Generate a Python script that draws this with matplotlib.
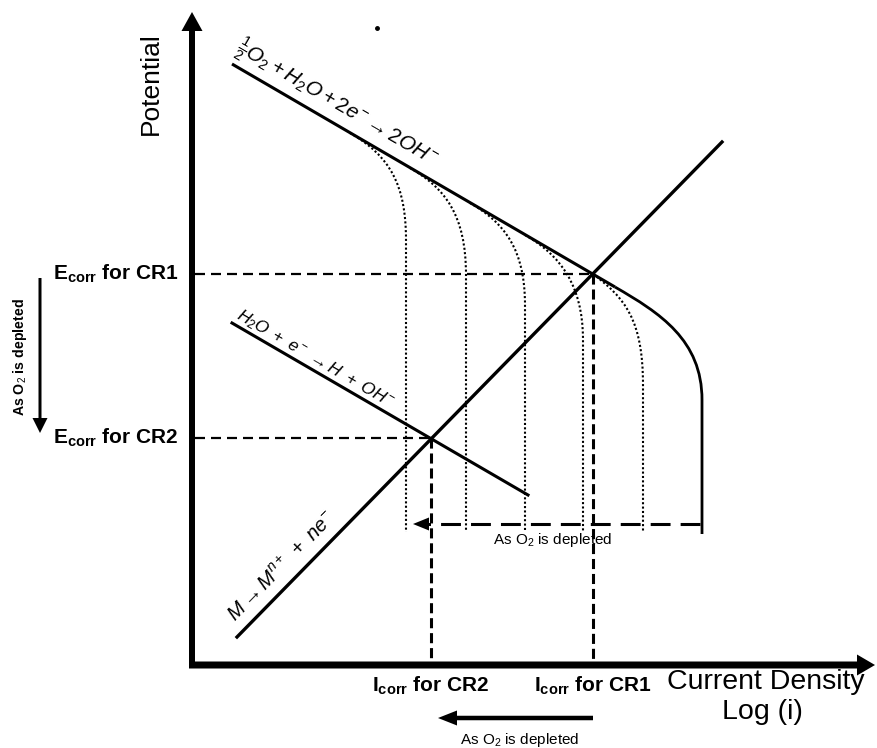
import matplotlib
matplotlib.use("Agg")
import matplotlib.pyplot as plt
from matplotlib.path import Path
from matplotlib.patches import PathPatch

plt.rcParams["font.family"] = ["Liberation Sans", "DejaVu Sans"]
plt.rcParams["mathtext.fontset"] = "custom"
plt.rcParams["mathtext.rm"] = "Liberation Sans"
plt.rcParams["mathtext.it"] = "Liberation Sans:italic"
plt.rcParams["mathtext.bf"] = "Liberation Sans:bold"

# Evans diagram (schematic): x = log(i), y = potential, arbitrary units
E_corr = [3.91, 2.27]          # CR1, CR2
i_corr = [4.01, 2.39]

# O2 reduction: Tafel line, bend into limiting current, vertical limit
o2_line_x = [0.40, 4.23]
o2_line_y = [6.01, 3.78]
o2_bend_x = [4.23, 4.68, 5.10, 5.10]
o2_bend_y = [3.78, 3.52, 3.25, 2.65]
o2_limit_bottom = 1.31

h2o_x = [0.40, 3.36]
h2o_y = [3.42, 1.70]
anodic_x = [0.45, 5.30]
anodic_y = [0.28, 5.23]

# lower O2 concentrations: bezier control points off the Tafel line
dot_x = [[1.58, 1.98, 2.14, 2.14],
         [2.18, 2.53, 2.74, 2.74],
         [2.78, 3.13, 3.33, 3.33],
         [3.33, 3.68, 3.91, 3.91],
         [4.01, 4.33, 4.51, 4.51]]
dot_y = [[5.32, 5.09, 4.80, 4.25],
         [4.97, 4.77, 4.50, 3.90],
         [4.62, 4.42, 4.15, 3.60],
         [4.30, 4.10, 3.80, 3.25],
         [3.91, 3.67, 3.45, 2.80]]
dot_bottom = 1.33

depl_y = 1.41                  # dashed "as O2 is depleted" arrow
depl_x = [5.08, 2.21]

fig = plt.figure(figsize=(8.77, 7.48), dpi=100)
ax = fig.add_axes([0, 0, 1, 1])
ax.set_xlim(-1.92, 6.85)
ax.set_ylim(-0.83, 6.65)
ax.axis("off")

# axes with arrow heads
ax.arrow(0, -0.03, 0, 6.56, width=0.06, head_width=0.21, head_length=0.19,
         length_includes_head=True, fc="black", ec="none")
ax.arrow(-0.03, 0, 6.86, 0, width=0.07, head_width=0.21, head_length=0.18,
         length_includes_head=True, fc="black", ec="none")

# solid reaction lines
ax.plot(o2_line_x, o2_line_y, color="black", lw=2.2, solid_capstyle="butt")
verts = list(zip(o2_bend_x, o2_bend_y)) + [(o2_bend_x[-1], o2_limit_bottom)]
codes = [Path.MOVETO, Path.CURVE4, Path.CURVE4, Path.CURVE4, Path.LINETO]
ax.add_patch(PathPatch(Path(verts, codes), fill=False, lw=2.0, ec="black"))
ax.plot(h2o_x, h2o_y, color="black", lw=2.2)
ax.plot(anodic_x, anodic_y, color="black", lw=2.4)

# dotted curves
for xs, ys in zip(dot_x, dot_y):
    verts = list(zip(xs, ys)) + [(xs[-1], dot_bottom)]
    ax.add_patch(PathPatch(Path(verts, codes), fill=False, lw=1.5, ec="black",
                           ls=(0, (1, 1.1))))

# corrosion potential / current construction lines
for e, i in zip(E_corr, i_corr):
    ax.plot([0.03, i], [e, e], color="black", lw=1.6, ls=(0, (4.5, 2.7)))
    ax.plot([i, i], [e, 0.03], color="black", lw=2.2, ls=(0, (3.3, 1.6)))

# dashed depletion arrow
ax.plot([depl_x[0], depl_x[1] + 0.15], [depl_y, depl_y], color="black", lw=2.2,
        ls=(0, (6.5, 3.3)))
ax.arrow(depl_x[1] + 0.16, depl_y, -0.16, 0, width=0.03, head_width=0.13,
         head_length=0.16, length_includes_head=True, fc="black", ec="none")
ax.text(3.61, 1.25, r"As O$_2$ is depleted", fontsize=11, ha="center", va="center")

# left arrow
ax.arrow(-1.52, 3.87, 0, -1.55, width=0.03, head_width=0.15, head_length=0.15,
         length_includes_head=True, fc="black", ec="none")
ax.text(-1.72, 3.08, r"As O$_2$ is depleted", fontsize=10.2, fontweight="bold",
        rotation=90, ha="center", va="center")

# bottom arrow
ax.arrow(4.01, -0.53, -1.55, 0, width=0.045, head_width=0.15, head_length=0.19,
         length_includes_head=True, fc="black", ec="none")
ax.text(3.28, -0.75, r"As O$_2$ is depleted", fontsize=11, ha="center", va="center")

# axis labels
ax.text(-0.41, 6.33, "Potential", fontsize=19, rotation=90, ha="center", va="top")
ax.text(5.74, -0.17, "Current Density", fontsize=20.5, ha="center", va="center")
ax.text(5.70, -0.47, "Log (i)", fontsize=20.5, ha="center", va="center")

for k, (e, i) in enumerate(zip(E_corr, i_corr)):
    ax.text(-1.39, e, r"$\mathbf{E_{corr}}$ for CR%d" % (k + 1), fontsize=15,
            fontweight="bold", ha="left", va="center")
    ax.text(i, -0.21, r"$\mathbf{I_{corr}}$ for CR%d" % (k + 1), fontsize=15,
            fontweight="bold", ha="center", va="center")

# reaction equations along their lines
ax.text(0.43, 6.14, r"$\frac{1}{2}O_2+H_2O+2e^{-}\rightarrow 2OH^{-}$", fontsize=15,
        rotation=-30.2, rotation_mode="anchor", ha="left", va="baseline")
ax.text(0.43, 3.47, r"$H_2O\ +\ e^{-}\ \rightarrow H\ +\ OH^{-}$", fontsize=12.5,
        rotation=-30.2, rotation_mode="anchor", ha="left", va="baseline")
ax.text(0.44, 0.42, r"$M \rightarrow M^{n+}\ +\ ne^{-}$", fontsize=14.5,
        rotation=45.6, rotation_mode="anchor", ha="left", va="baseline")

ax.plot([1.85], [6.37], "o", color="black", ms=2.5)

fig.savefig("out.png", dpi=100)
